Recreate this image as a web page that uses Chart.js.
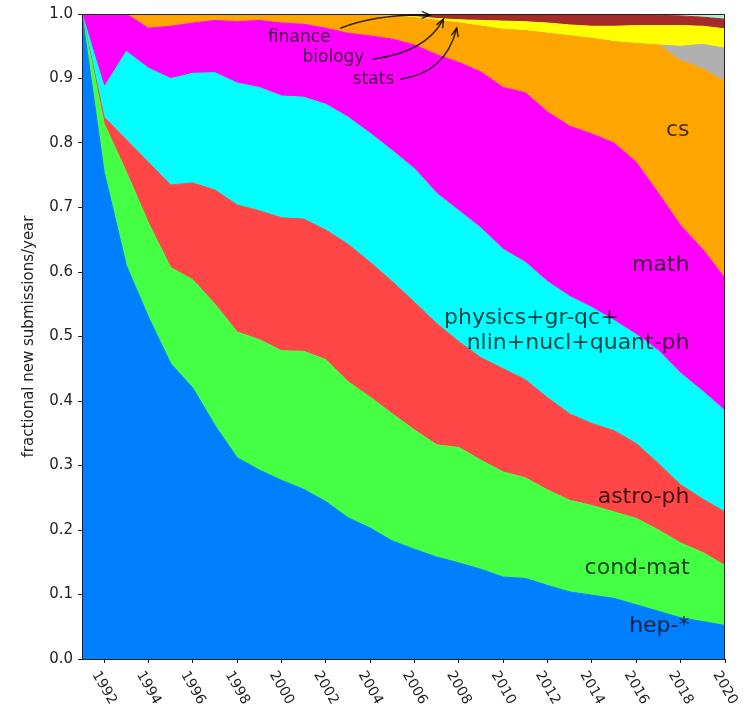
<!DOCTYPE html>
<html>
<head>
<meta charset="utf-8">
<script src="https://cdn.jsdelivr.net/npm/chart.js@4"></script>
<style>
  body { margin: 0; background: #fff; }
  canvas { display: block; }
</style>
</head>
<body>
<canvas id="grafica-area" width="744" height="710"></canvas>
<script>
'use strict'
//Años del eje x
const anios = [1991, 1992, 1993, 1994, 1995, 1996, 1997, 1998, 1999, 2000,
               2001, 2002, 2003, 2004, 2005, 2006, 2007, 2008, 2009, 2010,
               2011, 2012, 2013, 2014, 2015, 2016, 2017, 2018, 2019, 2020];

//Etiquetas de los ejes
const ticks_x = [1992, 1994, 1996, 1998, 2000, 2002, 2004, 2006, 2008, 2010, 2012, 2014, 2016, 2018, 2020];
const ticks_y = [0.0, 0.1, 0.2, 0.3, 0.4, 0.5, 0.6, 0.7, 0.8, 0.9, 1.0];

//Fracción acumulada (borde superior de cada banda)
const hep_top = [1.0, 0.755, 0.61, 0.53, 0.458, 0.42, 0.362, 0.312, 0.293, 0.277,
                 0.263, 0.244, 0.219, 0.203, 0.183, 0.17, 0.158, 0.149, 0.139, 0.127,
                 0.125, 0.114, 0.104, 0.099, 0.094, 0.084, 0.074, 0.064, 0.058, 0.052];
const condmat_top = [1.0, 0.83, 0.755, 0.676, 0.607, 0.588, 0.55, 0.507, 0.495, 0.478,
                     0.477, 0.464, 0.43, 0.406, 0.38, 0.355, 0.332, 0.328, 0.308, 0.29,
                     0.281, 0.262, 0.246, 0.238, 0.228, 0.218, 0.2, 0.18, 0.165, 0.145];
const astro_top = [1.0, 0.84, 0.805, 0.77, 0.735, 0.738, 0.727, 0.704, 0.695, 0.684,
                   0.682, 0.665, 0.643, 0.615, 0.585, 0.553, 0.52, 0.492, 0.467, 0.45,
                   0.433, 0.405, 0.38, 0.365, 0.354, 0.334, 0.303, 0.27, 0.248, 0.228];
const physics_top = [1.0, 0.887, 0.942, 0.916, 0.9, 0.908, 0.909, 0.893, 0.886, 0.873,
                     0.871, 0.86, 0.84, 0.815, 0.788, 0.76, 0.722, 0.695, 0.668, 0.635,
                     0.615, 0.585, 0.562, 0.545, 0.525, 0.503, 0.478, 0.443, 0.415, 0.385];
const math_top = [1.0, 1.0, 1.0, 0.978, 0.981, 0.986, 0.99, 0.988, 0.99, 0.986,
                  0.984, 0.978, 0.97, 0.966, 0.961, 0.952, 0.937, 0.925, 0.91, 0.886,
                  0.878, 0.848, 0.826, 0.814, 0.8, 0.77, 0.722, 0.672, 0.635, 0.59];
const cs_top = [1.0, 1.0, 1.0, 1.0, 1.0, 1.0, 1.0, 1.0, 1.0, 1.0,
                1.0, 1.0, 0.999, 0.998, 0.996, 0.994, 0.99, 0.986, 0.981, 0.976,
                0.974, 0.97, 0.966, 0.962, 0.957, 0.954, 0.952, 0.928, 0.915, 0.895];
const eess_top = [1.0, 1.0, 1.0, 1.0, 1.0, 1.0, 1.0, 1.0, 1.0, 1.0,
                  1.0, 1.0, 0.999, 0.998, 0.996, 0.994, 0.99, 0.986, 0.981, 0.976,
                  0.974, 0.97, 0.966, 0.962, 0.957, 0.954, 0.952, 0.95, 0.953, 0.947];
const stats_top = [1.0, 1.0, 1.0, 1.0, 1.0, 1.0, 1.0, 1.0, 1.0, 1.0,
                   1.0, 1.0, 0.999, 0.998, 0.997, 0.996, 0.993, 0.991, 0.99, 0.989,
                   0.988, 0.986, 0.983, 0.981, 0.981, 0.982, 0.982, 0.982, 0.981, 0.977];
const bio_top = [1.0, 1.0, 1.0, 1.0, 1.0, 1.0, 1.0, 1.0, 1.0, 1.0,
                 1.0, 1.0, 1.0, 1.0, 1.0, 1.0, 1.0, 1.0, 1.0, 1.0,
                 1.0, 1.0, 1.0, 1.0, 1.0, 1.0, 0.998, 0.997, 0.995, 0.992];
const finance_top = [1.0, 1.0, 1.0, 1.0, 1.0, 1.0, 1.0, 1.0, 1.0, 1.0,
                     1.0, 1.0, 1.0, 1.0, 1.0, 1.0, 1.0, 1.0, 1.0, 1.0,
                     1.0, 1.0, 1.0, 1.0, 1.0, 1.0, 1.0, 1.0, 1.0, 1.0];

const series = [hep_top, condmat_top, astro_top, physics_top, math_top, cs_top, eess_top, stats_top, bio_top, finance_top];
const nombres = ['hep-*', 'cond-mat', 'astro-ph', 'physics', 'math', 'cs', 'eess', 'stats', 'biology', 'finance'];
const colores = ['#0080ff', '#44ff44', '#ff4646', '#00ffff', '#ff00ff', '#ffa500', '#b0b0b0', '#ffff00', '#a52a2a', '#aaf0d1'];

//Etiquetas dentro del área (año, valor, alineación)
const etiquetas = [
    {texto: 'cs', x: 2018.4, y: 0.819, align: 'right'},
    {texto: 'math', x: 2018.4, y: 0.61, align: 'right'},
    {texto: 'physics+gr-qc+', x: 2015.2, y: 0.529, align: 'right'},
    {texto: 'nlin+nucl+quant-ph', x: 2018.4, y: 0.489, align: 'right'},
    {texto: 'astro-ph', x: 2018.4, y: 0.251, align: 'right'},
    {texto: 'cond-mat', x: 2018.4, y: 0.141, align: 'right'},
    {texto: 'hep-*', x: 2018.4, y: 0.05, align: 'right'}
];

//Anotaciones con flecha curva
const anotaciones = [
    {texto: 'finance', x: 2000.8, y: 0.963, desde: [2002.65, 0.978], control: [2004.2, 1.0], hasta: [2006.7, 0.9985]},
    {texto: 'biology', x: 2002.34, y: 0.932, desde: [2004.1, 0.93], control: [2006.5, 0.94], hasta: [2007.3, 0.992]},
    {texto: 'stats', x: 2004.15, y: 0.899, desde: [2005.35, 0.899], control: [2007.4, 0.908], hasta: [2007.9, 0.978]}
];

const fuente = '"DejaVu Sans", sans-serif';
const ctx_area = document.getElementById('grafica-area').getContext('2d');

function flecha(ctx, p0, pc, p1) {
    ctx.beginPath();
    ctx.moveTo(p0[0], p0[1]);
    ctx.quadraticCurveTo(pc[0], pc[1], p1[0], p1[1]);
    ctx.stroke();
    const ang = Math.atan2(p1[1] - pc[1], p1[0] - pc[0]);
    const largo = 9;
    ctx.beginPath();
    ctx.moveTo(p1[0] - largo * Math.cos(ang - 0.4), p1[1] - largo * Math.sin(ang - 0.4));
    ctx.lineTo(p1[0], p1[1]);
    ctx.lineTo(p1[0] - largo * Math.cos(ang + 0.4), p1[1] - largo * Math.sin(ang + 0.4));
    ctx.stroke();
}

const plugin_textos = {
    id: 'textos',
    afterDraw(chart) {
        const ctx = chart.ctx;
        const sx = chart.scales.x;
        const sy = chart.scales.y;
        const area = chart.chartArea;
        ctx.save();

        //Marco del área
        ctx.strokeStyle = '#222';
        ctx.lineWidth = 1;
        ctx.strokeRect(area.left + 0.5, area.top + 0.5, area.right - area.left - 1, area.bottom - area.top);

        //Etiquetas del eje x giradas 60 grados
        const ang = Math.PI / 3;
        ctx.font = '14px ' + fuente;
        ctx.fillStyle = '#222';
        ctx.textAlign = 'center';
        ctx.textBaseline = 'middle';
        ticks_x.forEach(v => {
            const texto = String(v);
            const L = ctx.measureText(texto).width;
            const alto = 10;
            const h_caja = L * Math.sin(ang) + alto * Math.cos(ang);
            const px = sx.getPixelForValue(v);
            const py = area.bottom + 11 + h_caja / 2;
            ctx.save();
            ctx.translate(px, py);
            ctx.rotate(ang);
            ctx.fillText(texto, 0, 0);
            ctx.restore();
        });

        //Nombres de las bandas
        ctx.font = '22px ' + fuente;
        ctx.fillStyle = 'rgba(0,0,0,0.74)';
        etiquetas.forEach(e => {
            ctx.textAlign = e.align;
            ctx.fillText(e.texto, sx.getPixelForValue(e.x), sy.getPixelForValue(e.y));
        });

        //Anotaciones pequeñas
        ctx.font = '17px ' + fuente;
        ctx.textAlign = 'center';
        ctx.strokeStyle = 'rgba(0,0,0,0.8)';
        ctx.lineWidth = 1.5;
        anotaciones.forEach(a => {
            ctx.fillText(a.texto, sx.getPixelForValue(a.x), sy.getPixelForValue(a.y));
            const p0 = [sx.getPixelForValue(a.desde[0]), sy.getPixelForValue(a.desde[1])];
            const pc = [sx.getPixelForValue(a.control[0]), sy.getPixelForValue(a.control[1])];
            const p1 = [sx.getPixelForValue(a.hasta[0]), sy.getPixelForValue(a.hasta[1])];
            flecha(ctx, p0, pc, p1);
        });
        ctx.restore();
    }
};

const conjuntos = series.map((datos, i) => ({
    label: nombres[i],
    data: datos.map((v, j) => ({x: anios[j], y: v})),
    backgroundColor: colores[i],
    borderColor: colores[i],
    borderWidth: 1,
    pointRadius: 0,
    tension: 0,
    fill: i === 0 ? 'origin' : '-1'
}));

const grafica_area = new Chart(ctx_area, {
    type: 'line',
    data: { datasets: conjuntos },
    plugins: [plugin_textos],
    options: {
        animation: false,
        responsive: false,
        events: [],
        layout: { padding: { top: 13, right: 19, bottom: 0, left: 0 } },
        plugins: {
            legend: { display: false },
            tooltip: { enabled: false },
            title: { display: false }
        },
        scales: {
            x: {
                type: 'linear',
                min: 1991,
                max: 2020,
                afterBuildTicks: (escala) => { escala.ticks = ticks_x.map(v => ({value: v})); },
                afterFit: (escala) => { escala.height = 51; },
                ticks: { display: false },
                grid: { drawOnChartArea: false, drawTicks: true, tickLength: 4, color: '#222' },
                border: { display: false }
            },
            y: {
                min: 0,
                max: 1,
                afterBuildTicks: (escala) => { escala.ticks = ticks_y.map(v => ({value: v})); },
                afterFit: (escala) => { escala.width = 82; },
                ticks: {
                    callback: (v) => Number(v).toFixed(1),
                    color: '#222',
                    padding: 5,
                    font: { family: fuente, size: 15 }
                },
                grid: { drawOnChartArea: false, drawTicks: true, tickLength: 4, color: '#222' },
                border: { display: false },
                title: {
                    display: true,
                    text: 'fractional new submissions/year',
                    color: '#222',
                    padding: { top: 20, bottom: 0 },
                    font: { family: fuente, size: 15 }
                }
            }
        }
    }
});
</script>
</body>
</html>
